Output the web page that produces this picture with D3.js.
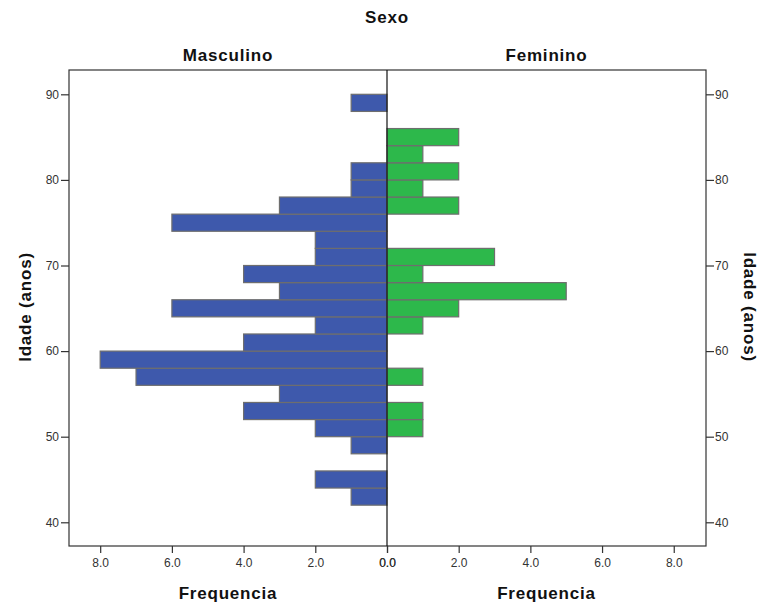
<!DOCTYPE html>
<html>
<head>
<meta charset="utf-8">
<script src="https://cdn.jsdelivr.net/npm/d3@7"></script>
<style>
  html, body { margin: 0; padding: 0; background: #fff; }
  svg { display: block; font-family: "Liberation Sans", Arial, sans-serif; }
</style>
</head>
<body>
<svg id="chart" width="763" height="610"></svg>
<script>
// ---- data ----
const binStarts = [42,44,46,48,50,52,54,56,58,60,62,64,66,68,70,72,74,76,78,80,82,84,86,88];
const binWidth = 2;
const maleCounts   = [1,2,0,1,2,4,3,7,8,4,2,6,3,4,2,2,6,3,1,1,0,0,0,1];
const femaleCounts = [0,0,0,0,1,1,0,1,0,0,1,2,5,1,3,0,0,2,1,2,1,2,0,0];
const ageTicks = [40,50,60,70,80,90];
const freqTicks = [0,2,4,6,8];
const panelLabels = ["Masculino","Feminino"];
const groupTitle = "Sexo";
const yTitle = "Idade (anos)";
const xTitle = "Frequencia";

// ---- layout ----
const svg = d3.select("#chart");
const L = 69, R = 706, T = 70, B = 546, C = 387;

const y = d3.scaleLinear().domain([37.23, 92.84]).range([B, T]);
const xL = d3.scaleLinear().domain([0, 8.87]).range([C, L]);
const xR = d3.scaleLinear().domain([0, 8.9]).range([C, R]);

const blue = "#3e59ac", green = "#2db84b", barStroke = "#6e6e6e";

const maleData = binStarts.map((b,i)=>({b, v: maleCounts[i]})).filter(d=>d.v>0);
const femaleData = binStarts.map((b,i)=>({b, v: femaleCounts[i]})).filter(d=>d.v>0);

svg.append("g").selectAll("rect").data(maleData).join("rect")
  .attr("x", d => xL(d.v))
  .attr("y", d => y(d.b + binWidth))
  .attr("width", d => xL(0) - xL(d.v))
  .attr("height", d => y(d.b) - y(d.b + binWidth))
  .attr("fill", blue).attr("stroke", barStroke).attr("stroke-width", 1.2);

svg.append("g").selectAll("rect").data(femaleData).join("rect")
  .attr("x", xR(0))
  .attr("y", d => y(d.b + binWidth))
  .attr("width", d => xR(d.v) - xR(0))
  .attr("height", d => y(d.b) - y(d.b + binWidth))
  .attr("fill", green).attr("stroke", barStroke).attr("stroke-width", 1.2);

// frame & centre line
svg.append("rect").attr("x", L).attr("y", T).attr("width", R-L).attr("height", B-T)
  .attr("fill", "none").attr("stroke", "#333").attr("stroke-width", 1.2);
svg.append("line").attr("x1", C).attr("x2", C).attr("y1", T).attr("y2", B)
  .attr("stroke", "#111").attr("stroke-width", 1.2);

function styleAxis(g) {
  g.select(".domain").remove();
  g.selectAll(".tick line").attr("stroke", "#333").attr("stroke-width", 1.2);
  g.selectAll(".tick text").attr("fill", "#333").style("font-size", "12px")
   .style("font-family", "'Liberation Sans', Arial, sans-serif");
}

svg.append("g").attr("transform", `translate(${L},0)`)
  .call(d3.axisLeft(y).tickValues(ageTicks).tickSize(8).tickPadding(2))
  .call(styleAxis);
svg.append("g").attr("transform", `translate(${R},0)`)
  .call(d3.axisRight(y).tickValues(ageTicks).tickSize(8).tickPadding(1))
  .call(styleAxis);
svg.append("g").attr("transform", `translate(0,${B})`)
  .call(d3.axisBottom(xL).tickValues(freqTicks).tickFormat(d3.format(".1f")).tickSize(7).tickPadding(5))
  .call(styleAxis);
svg.append("g").attr("transform", `translate(0,${B})`)
  .call(d3.axisBottom(xR).tickValues(freqTicks).tickFormat(d3.format(".1f")).tickSize(7).tickPadding(5))
  .call(styleAxis);

// titles
const bold = t => t.attr("font-weight", "bold").attr("fill", "#111")
  .style("font-size", "17px").style("letter-spacing", "0.8px").attr("text-anchor", "middle");
svg.append("text").attr("x", C).attr("y", 23).text(groupTitle).call(bold);
svg.append("text").attr("x", (L + C)/2).attr("y", 61).text(panelLabels[0]).call(bold);
svg.append("text").attr("x", (C + R)/2).attr("y", 61).text(panelLabels[1]).call(bold);
svg.append("text").attr("x", (L + C)/2).attr("y", 599).text(xTitle).call(bold);
svg.append("text").attr("x", (C + R)/2).attr("y", 599).text(xTitle).call(bold);
svg.append("text").attr("transform", `translate(31,307) rotate(-90)`).text(yTitle).call(bold);
svg.append("text").attr("transform", `translate(744,307) rotate(90)`).text(yTitle).call(bold);
</script>
</body>
</html>
